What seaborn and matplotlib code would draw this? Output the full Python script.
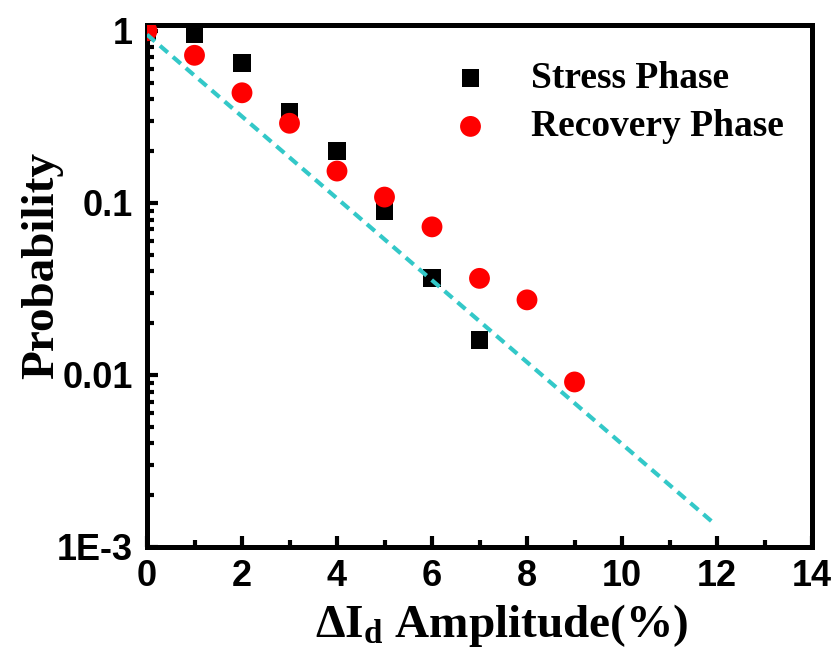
import matplotlib
matplotlib.use("Agg")
import matplotlib.pyplot as plt
import seaborn as sns
import pandas as pd
import numpy as np
from matplotlib.ticker import LogLocator, NullFormatter, MultipleLocator

# ---- data ----
stress_x = [0, 1, 2, 3, 4, 5, 6, 7]
stress_y = [1.0, 0.96, 0.65, 0.34, 0.20, 0.089, 0.0366, 0.016]
recovery_x = [0, 1, 2, 3, 4, 5, 6, 7, 8, 9]
recovery_y = [1.0, 0.72, 0.436, 0.29, 0.153, 0.108, 0.0725, 0.0364, 0.0273, 0.0091]
fit_x = [0.0, 11.9]
fit_y = [0.95, 0.0014]
series_labels = ["Stress Phase", "Recovery Phase"]
xticks = [0, 2, 4, 6, 8, 10, 12, 14]
yticks = [0.001, 0.01, 0.1, 1]
ytick_labels = ["1E-3", "0.01", "0.1", "1"]

sns.set_theme(style="white")
plt.rcParams["font.family"] = ["Liberation Sans", "DejaVu Sans"]
plt.rcParams["text.color"] = "black"
plt.rcParams["axes.labelcolor"] = "black"
plt.rcParams["xtick.color"] = "black"
plt.rcParams["ytick.color"] = "black"
plt.rcParams["mathtext.fontset"] = "custom"
plt.rcParams["mathtext.rm"] = "Liberation Serif:bold"
plt.rcParams["mathtext.it"] = "Liberation Serif:bold"
plt.rcParams["mathtext.bf"] = "Liberation Serif:bold"

fig = plt.figure(figsize=(8.38, 6.6), dpi=100)
W, H = 838, 660
left, right, top, bottom = 147, 812, 25, 547
ax = fig.add_axes([left / W, 1 - bottom / H, (right - left) / W, (bottom - top) / H])

df_s = pd.DataFrame({"x": stress_x, "y": stress_y})
df_r = pd.DataFrame({"x": recovery_x, "y": recovery_y})
df_f = pd.DataFrame({"x": fit_x, "y": fit_y})

sns.scatterplot(data=df_s, x="x", y="y", ax=ax, marker="s", s=160, color="black",
                edgecolor="none", linewidth=0, zorder=3, label=series_labels[0])
sns.scatterplot(data=df_r, x="x", y="y", ax=ax, marker="o", s=225, color="#ff0000",
                edgecolor="none", linewidth=0, zorder=4, label=series_labels[1])
sns.lineplot(data=df_f, x="x", y="y", ax=ax, color="#33c8c8", lw=3.0, zorder=5,
             estimator=None, sort=False)
ax.lines[-1].set_linestyle((0, (2.5, 1.6)))

ax.set_yscale("log")
ax.set_xlim(0, 14)
ax.set_ylim(1e-3, 1.08)
ax.set_xticks(xticks)
ax.set_xticklabels([str(t) for t in xticks])
ax.xaxis.set_minor_locator(MultipleLocator(1))
ax.set_yticks(yticks)
ax.set_yticklabels(ytick_labels)
ax.yaxis.set_minor_locator(LogLocator(base=10, subs=np.arange(2, 10)))
ax.yaxis.set_minor_formatter(NullFormatter())

for sp in ax.spines.values():
    sp.set_linewidth(3.6)
    sp.set_color("black")

ax.tick_params(axis="both", which="major", direction="in", length=8, width=3,
               color="black", labelsize=26, labelcolor="black")
ax.tick_params(axis="x", which="major", pad=9)
ax.tick_params(axis="y", which="major", pad=10)
ax.tick_params(axis="both", which="minor", direction="in", length=5, width=3, color="black")
ax.tick_params(axis="both", which="both", bottom=True, left=True, top=False, right=False)
for lab in ax.get_xticklabels() + ax.get_yticklabels():
    lab.set_fontweight("bold")
    lab.set_family(["Liberation Sans"])

ax.set_xlabel(r"$\Delta\mathrm{I}_\mathrm{d}$ Amplitude(%)", family=["Liberation Serif"],
              fontweight="bold", fontsize=34, color="black")
ax.xaxis.set_label_coords(0.534, -0.105)
ax.set_ylabel("Probability", family=["Liberation Serif"], fontweight="bold",
              fontsize=34, color="black")
ax.yaxis.set_label_coords(-0.126, 0.54)

handles, labels = ax.get_legend_handles_labels()
leg = ax.legend(handles[:2], labels[:2], loc="upper left",
                bbox_to_anchor=((433 - left) / (right - left), 1 - (42 - top) / (bottom - top)),
                frameon=False, prop={"family": "Liberation Serif", "weight": "bold", "size": 27},
                handlelength=1.0, handletextpad=1.1, labelspacing=0.36, borderpad=0,
                markerscale=1.0)
for t in leg.get_texts():
    t.set_color("black")

fig.savefig("out.png", dpi=100)
